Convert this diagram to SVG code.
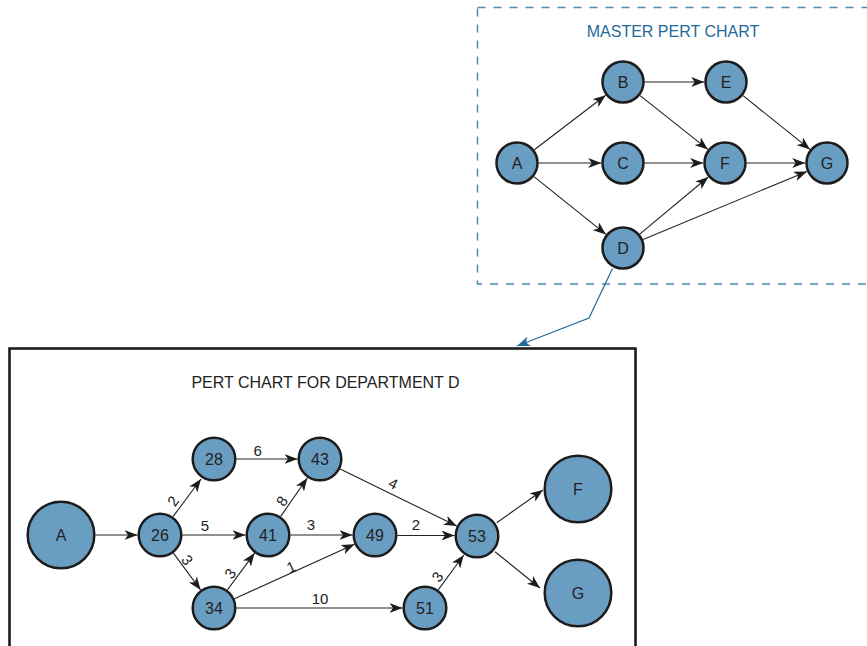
<svg xmlns="http://www.w3.org/2000/svg" width="867" height="646" viewBox="0 0 867 646">
<style>
  .node circle { fill: #6a9dc2; stroke: #1c1c1c; stroke-width: 2.5; }
  .node text { font-family: "Liberation Sans", Arial, sans-serif; font-size: 16px; fill: #222; text-anchor: middle; dominant-baseline: central; }
  .edge { stroke: #222; stroke-width: 1.1; fill: none; marker-end: url(#arrow); }
  .lbl { font-family: "Liberation Sans", Arial, sans-serif; font-size: 15px; fill: #222; text-anchor: middle; dominant-baseline: central; }
  .title { font-family: "Liberation Sans", Arial, sans-serif; font-size: 16px; text-anchor: middle; }
</style>
<defs>
  <marker id="arrow" markerUnits="userSpaceOnUse" markerWidth="14" markerHeight="10" refX="13" refY="5" orient="auto">
    <path d="M0,0 L13,5 L0,10 L3.5,5 z" fill="#1c1c1c"/>
  </marker>
  <marker id="arrowBlue" markerUnits="userSpaceOnUse" markerWidth="14" markerHeight="10" refX="13" refY="5" orient="auto">
    <path d="M0,0 L13,5 L0,10 L3.5,5 z" fill="#1f6a99"/>
  </marker>
</defs>
<rect width="867" height="646" fill="#ffffff"/>

<!-- Master chart frame -->
<g id="master-frame">
  <rect x="477.5" y="7.5" width="400" height="276.5" fill="none" stroke="#4a8ab2" stroke-width="1.5" stroke-dasharray="8,8"/>
  <text class="title" x="673" y="37" fill="#1f6a99">MASTER PERT CHART</text>
</g>

<!-- Department chart frame -->
<g id="dept-frame">
  <rect x="9.5" y="348.5" width="626" height="310" fill="none" stroke="#1c1c1c" stroke-width="2.6"/>
  <text class="title" x="325.5" y="388" fill="#222">PERT CHART FOR DEPARTMENT D</text>
</g>

<g id="connectors">
  <!-- master -->
  <line class="edge" x1="534.3" y1="149.8" x2="605.7" y2="95.2"/>
  <line class="edge" x1="538.8" y1="163" x2="601.2" y2="163"/>
  <line class="edge" x1="534" y1="176.6" x2="606" y2="234.4"/>
  <line class="edge" x1="644.8" y1="82" x2="704.2" y2="82"/>
  <line class="edge" x1="640.1" y1="95.6" x2="707.9" y2="149.4"/>
  <line class="edge" x1="644.8" y1="163" x2="703.2" y2="163"/>
  <line class="edge" x1="639.7" y1="234.1" x2="708.3" y2="177"/>
  <line class="edge" x1="643.1" y1="239.6" x2="806.9" y2="171.4"/>
  <line class="edge" x1="743" y1="95.6" x2="810" y2="149.4"/>
  <line class="edge" x1="746.8" y1="163" x2="805.2" y2="163"/>
  <!-- link from D to department chart -->
  <polyline points="612.5,268.5 589,318 517,346" fill="none" stroke="#1f6a99" stroke-width="1.2" marker-end="url(#arrowBlue)"/>
  <!-- department -->
  <line class="edge" x1="95.5" y1="535" x2="137.5" y2="535"/>
  <line class="edge" x1="173" y1="516.7" x2="201" y2="479"/>
  <line class="edge" x1="182.5" y1="535" x2="245.5" y2="535"/>
  <line class="edge" x1="173.4" y1="553.1" x2="200.6" y2="589.9"/>
  <line class="edge" x1="236.5" y1="459" x2="297.5" y2="459"/>
  <line class="edge" x1="280.7" y1="516.4" x2="307.3" y2="478"/>
  <line class="edge" x1="290.5" y1="535" x2="352.5" y2="535"/>
  <line class="edge" x1="227.4" y1="589.9" x2="254.6" y2="553.1"/>
  <line class="edge" x1="234.5" y1="598.7" x2="354.5" y2="544.3"/>
  <line class="edge" x1="236.5" y1="608" x2="402.5" y2="608"/>
  <line class="edge" x1="340.2" y1="468.9" x2="456.8" y2="526.1"/>
  <line class="edge" x1="397.5" y1="535.5" x2="454.5" y2="535.5"/>
  <line class="edge" x1="438.2" y1="589.8" x2="463.8" y2="555"/>
  <line class="edge" x1="496.7" y1="522.7" x2="543" y2="490"/>
  <line class="edge" x1="495" y1="551.7" x2="540" y2="588"/>
</g>

<g id="edge-labels">
  <text class="lbl" x="257.7" y="450">6</text>
  <text class="lbl" transform="translate(173,501) rotate(-55)">2</text>
  <text class="lbl" x="205" y="525">5</text>
  <text class="lbl" transform="translate(281.7,501) rotate(-56)">8</text>
  <text class="lbl" x="311" y="524">3</text>
  <text class="lbl" transform="translate(187.3,560) rotate(54)">3</text>
  <text class="lbl" transform="translate(230,573.3) rotate(-54)">3</text>
  <text class="lbl" transform="translate(291,566.7) rotate(-24)">1</text>
  <text class="lbl" x="320" y="598">10</text>
  <text class="lbl" transform="translate(393.3,483.3) rotate(26)">4</text>
  <text class="lbl" x="416" y="524">2</text>
  <text class="lbl" transform="translate(437.3,576.7) rotate(-54)">3</text>
</g>

<!-- master nodes -->
<g id="m-A" class="node"><circle cx="517" cy="163" r="20.5"/><text x="517" y="163">A</text></g>
<g id="m-B" class="node"><circle cx="623" cy="82" r="20.5"/><text x="623" y="82">B</text></g>
<g id="m-C" class="node"><circle cx="623" cy="163" r="20.5"/><text x="623" y="163">C</text></g>
<g id="m-D" class="node"><circle cx="623" cy="248" r="20.5"/><text x="623" y="248">D</text></g>
<g id="m-E" class="node"><circle cx="726" cy="82" r="20.5"/><text x="726" y="82">E</text></g>
<g id="m-F" class="node"><circle cx="725" cy="163" r="20.5"/><text x="725" y="163">F</text></g>
<g id="m-G" class="node"><circle cx="827" cy="163" r="20.5"/><text x="827" y="163">G</text></g>

<!-- department nodes -->
<g id="d-A" class="node"><circle cx="61" cy="535" r="33.3"/><text x="61" y="535">A</text></g>
<g id="d-26" class="node"><circle cx="160" cy="535" r="21.3"/><text x="160" y="535">26</text></g>
<g id="d-28" class="node"><circle cx="214" cy="459" r="21.3"/><text x="214" y="459">28</text></g>
<g id="d-43" class="node"><circle cx="320" cy="459" r="21.3"/><text x="320" y="459">43</text></g>
<g id="d-41" class="node"><circle cx="268" cy="535" r="21.3"/><text x="268" y="535">41</text></g>
<g id="d-49" class="node"><circle cx="375" cy="535" r="21.3"/><text x="375" y="535">49</text></g>
<g id="d-34" class="node"><circle cx="214" cy="608" r="21.3"/><text x="214" y="608">34</text></g>
<g id="d-53" class="node"><circle cx="477" cy="536" r="21.3"/><text x="477" y="536">53</text></g>
<g id="d-51" class="node"><circle cx="425" cy="608" r="21.3"/><text x="425" y="608">51</text></g>
<g id="d-F" class="node"><circle cx="578" cy="489" r="33.3"/><text x="578" y="489">F</text></g>
<g id="d-G" class="node"><circle cx="578" cy="593" r="33.3"/><text x="578" y="593">G</text></g>
</svg>
